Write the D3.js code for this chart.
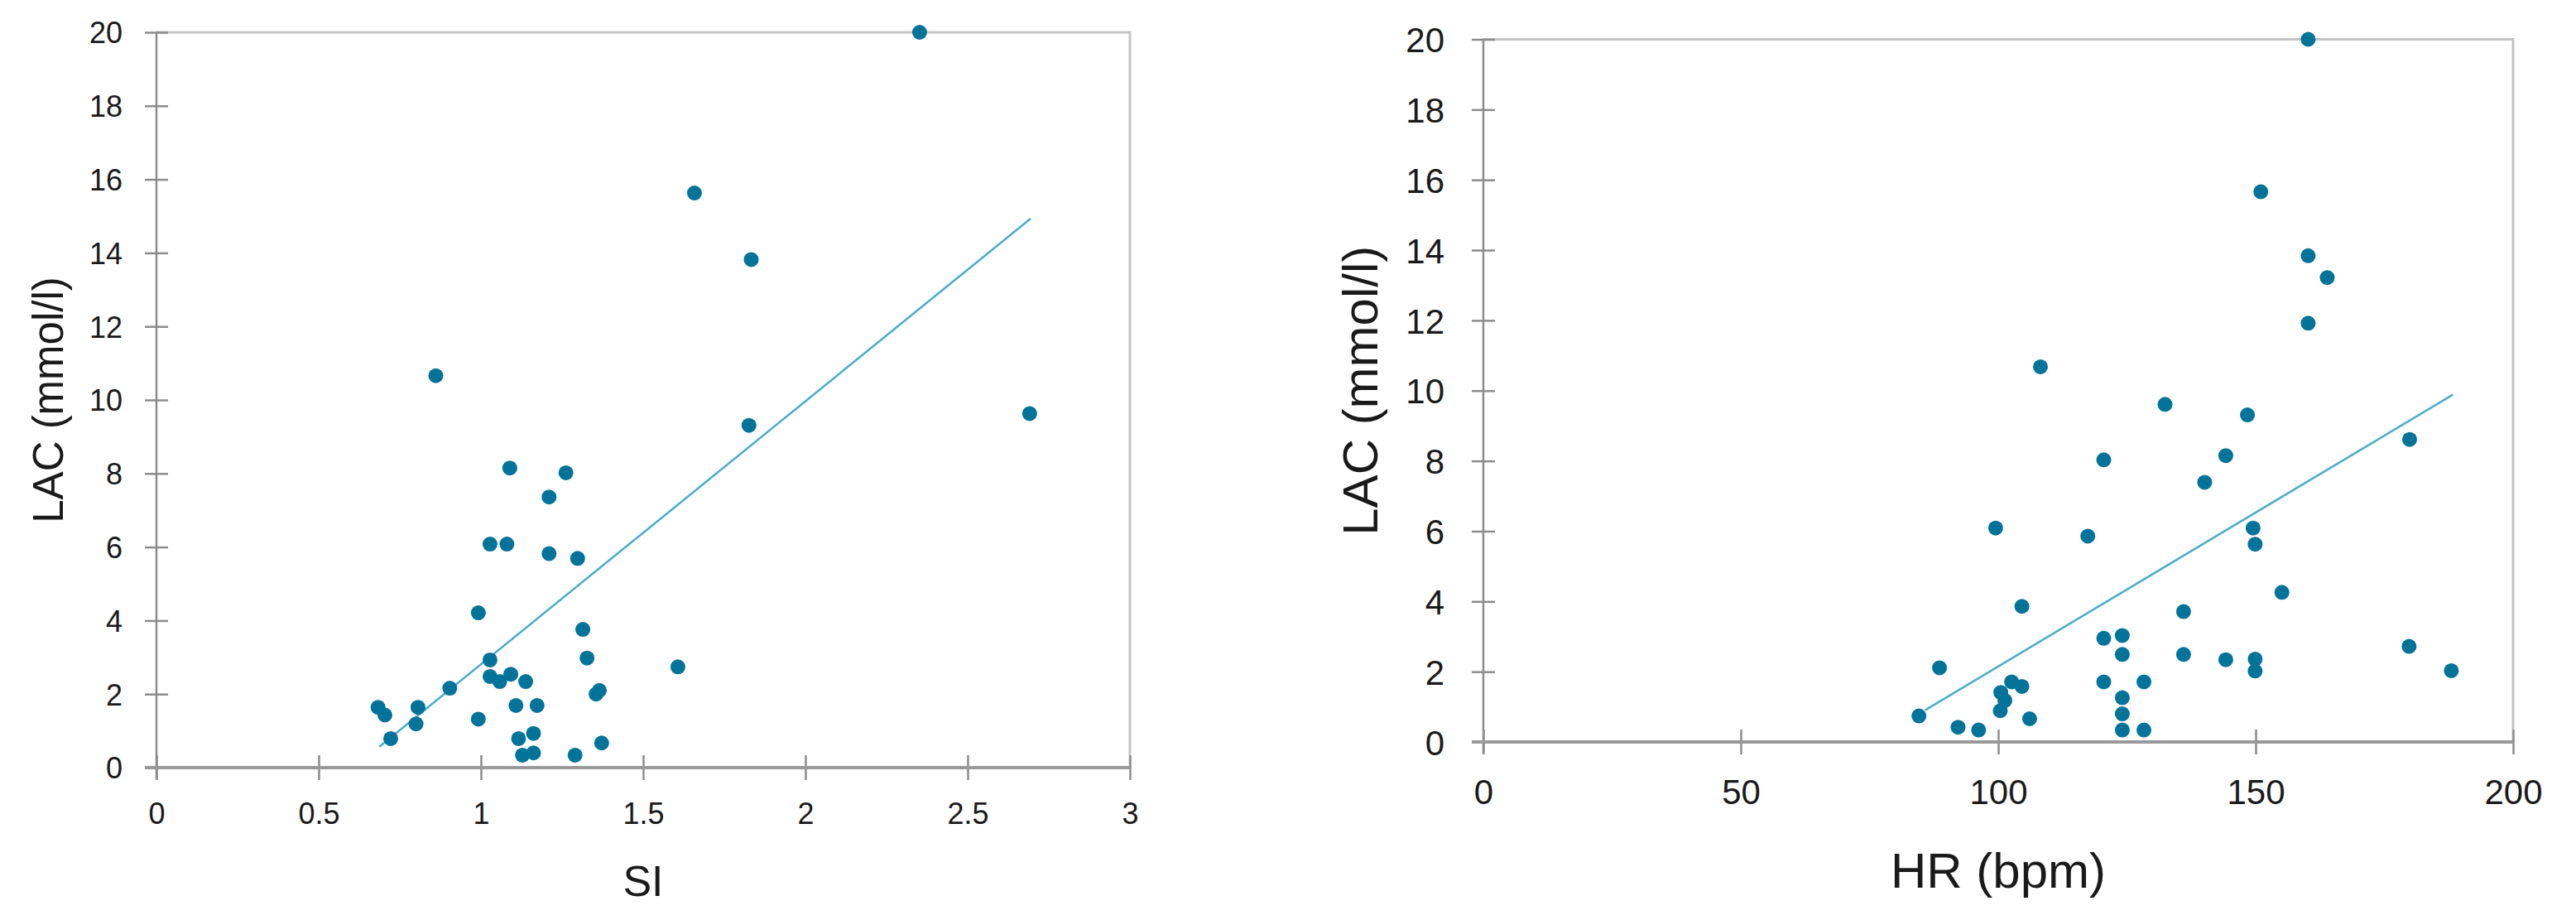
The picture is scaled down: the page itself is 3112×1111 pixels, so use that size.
<!DOCTYPE html>
<html>
<head>
<meta charset="utf-8">
<script src="https://cdn.jsdelivr.net/npm/d3@7"></script>
<style>
  html, body { margin: 0; padding: 0; background: #fff; }
  svg { display: block; }
  text { font-family: "Liberation Sans", Arial, sans-serif; fill: #1a1a1a; }
</style>
</head>
<body>
<svg id="chart" width="3112" height="1111"></svg>
<script>
// ---------- Data ----------
// Panel A: shock index (SI) vs lactate
const siValues = [0.861, 1.089, 1.262, 1.21, 1.028, 1.08, 1.21, 1.298, 0.992, 1.314, 1.327, 1.028, 1.028, 1.058, 1.092, 1.138, 0.904, 1.355, 1.365, 1.108, 1.173, 0.683, 0.704, 0.806, 0.80, 0.992, 0.722, 1.116, 1.162, 1.128, 1.162, 1.29, 1.372, 1.607, 2.352, 1.658, 1.833, 1.826, 2.691];
const siLac    = [10.66, 8.15, 8.02, 7.36, 6.08, 6.08, 5.82, 5.69, 4.21, 3.76, 2.98, 2.93, 2.48, 2.34, 2.54, 2.34, 2.16, 2.0, 2.1, 1.69, 1.69, 1.64, 1.43, 1.64, 1.19, 1.32, 0.79, 0.79, 0.93, 0.34, 0.40, 0.34, 0.67, 2.74, 20.0, 15.63, 13.82, 9.31, 9.63];
const siTrend  = { slope: 7.155, intercept: -4.345, from: 0.687, to: 2.694 };
const siXTicks = [0, 0.5, 1, 1.5, 2, 2.5, 3];

// Panel B: heart rate (HR) vs lactate
const hrValues = [160.2, 151.0, 160.2, 163.9, 160.2, 108.2, 132.4, 148.4, 179.9, 144.2, 120.5, 140.1, 99.5, 117.4, 149.5, 149.9, 155.1, 104.6, 136.0, 120.5, 124.1, 124.1, 136.0, 144.2, 149.9, 149.9, 179.8, 188.0, 88.6, 120.5, 128.3, 102.6, 104.6, 100.5, 101.3, 100.4, 124.1, 124.1, 124.1, 128.3, 106.1, 92.2, 96.2, 84.6];
const hrLac    = [20.0, 15.66, 13.84, 13.22, 11.92, 10.68, 9.61, 9.31, 8.61, 8.15, 8.03, 7.39, 6.09, 5.86, 6.09, 5.63, 4.26, 3.86, 3.71, 2.95, 3.03, 2.49, 2.49, 2.34, 2.36, 2.02, 2.72, 2.03, 2.11, 1.71, 1.71, 1.71, 1.58, 1.41, 1.18, 0.89, 1.26, 0.80, 0.34, 0.34, 0.66, 0.42, 0.34, 0.74];
const hrTrend  = { slope: 0.0876, intercept: -6.61, from: 85.8, to: 188.3 };
const hrXTicks = [0, 50, 100, 150, 200];

const lacTicks = [0, 2, 4, 6, 8, 10, 12, 14, 16, 18, 20];

// ---------- Drawing ----------
const svg = d3.select("#chart");
const DOT = "#04739a", TREND = "#4bacc6", AXIS = "#8c8c8c", BORDER = "#c3c3c3";

function panel(cfg) {
  const x = d3.scaleLinear().domain(cfg.xDomain).range(cfg.xRange);
  const y = d3.scaleLinear().domain([0, 20]).range(cfg.yRange);
  const g = svg.append("g");

  // plot border (top + right)
  g.append("path")
    .attr("d", `M${x.range()[0]},${y(20)}H${x.range()[1]}V${y(0)}`)
    .attr("fill", "none").attr("stroke", BORDER).attr("stroke-width", 3);

  // y axis
  const ya = g.append("g").attr("transform", `translate(${x.range()[0]},0)`)
    .call(d3.axisLeft(y).tickValues(lacTicks).tickSize(14).tickFormat(d3.format("d")));
  ya.select(".domain").remove();
  ya.selectAll(".tick line").attr("x1", 14).attr("stroke", AXIS).attr("stroke-width", 2.5);
  ya.selectAll(".tick text").attr("x", -cfg.yLabelGap).attr("dy", "0.36em")
    .style("font-size", cfg.tickFont + "px").style("font-family", '"Liberation Sans", Arial, sans-serif').attr("fill", "#1a1a1a");
  g.append("line").attr("x1", x.range()[0]).attr("x2", x.range()[0])
    .attr("y1", y(20) - 1).attr("y2", y(0) + 14)
    .attr("stroke", AXIS).attr("stroke-width", 2.5);

  // x axis
  const xa = g.append("g").attr("transform", `translate(0,${y(0)})`)
    .call(d3.axisBottom(x).tickValues(cfg.xTicks).tickSize(15).tickFormat(d => String(d)));
  xa.select(".domain").remove();
  xa.selectAll(".tick line").attr("y1", -15).attr("stroke", AXIS).attr("stroke-width", 2.5);
  xa.selectAll(".tick text").attr("y", cfg.xLabelGap).attr("dy", 0)
    .style("font-size", cfg.tickFont + "px").style("font-family", '"Liberation Sans", Arial, sans-serif').attr("fill", "#1a1a1a");
  g.append("line").attr("x1", x.range()[0] - 14).attr("x2", x.range()[1])
    .attr("y1", y(0)).attr("y2", y(0))
    .attr("stroke", "#999").attr("stroke-width", 4);

  // trendline
  const t = cfg.trend;
  g.append("line")
    .attr("x1", x(t.from)).attr("y1", y(t.slope * t.from + t.intercept))
    .attr("x2", x(t.to)).attr("y2", y(t.slope * t.to + t.intercept))
    .attr("stroke", TREND).attr("stroke-width", 2.5);

  // points
  g.append("g").selectAll("circle")
    .data(cfg.xs.map((v, i) => [v, cfg.ys[i]]))
    .join("circle")
    .attr("cx", d => x(d[0])).attr("cy", d => y(d[1]))
    .attr("r", 9).attr("fill", DOT);

  // axis titles
  g.append("text")
    .attr("transform", `translate(${cfg.yTitleX},${(y(0) + y(20)) / 2}) rotate(-90)`)
    .attr("text-anchor", "middle").attr("dominant-baseline", "central")
    .style("font-size", cfg.titleFont + "px")
    .text("LAC (mmol/l)");
  g.append("text")
    .attr("x", (x.range()[0] + x.range()[1]) / 2).attr("y", cfg.xTitleY)
    .attr("text-anchor", "middle")
    .style("font-size", cfg.xTitleFont + "px")
    .text(cfg.xTitle);
}

panel({
  xDomain: [0, 3], xRange: [189, 1365], yRange: [927, 39],
  xTicks: siXTicks, xs: siValues, ys: siLac, trend: siTrend,
  tickFont: 36, titleFont: 51, xTitleFont: 52,
  yLabelGap: 41, xLabelGap: 68, yTitleX: 58, xTitleY: 1082, xTitle: "SI"
});

panel({
  xDomain: [0, 200], xRange: [1792, 3036], yRange: [896, 47.5],
  xTicks: hrXTicks, xs: hrValues, ys: hrLac, trend: hrTrend,
  tickFont: 42, titleFont: 60, xTitleFont: 60,
  yLabelGap: 47, xLabelGap: 75, yTitleX: 1643, xTitleY: 1072, xTitle: "HR (bpm)"
});
</script>
</body>
</html>
